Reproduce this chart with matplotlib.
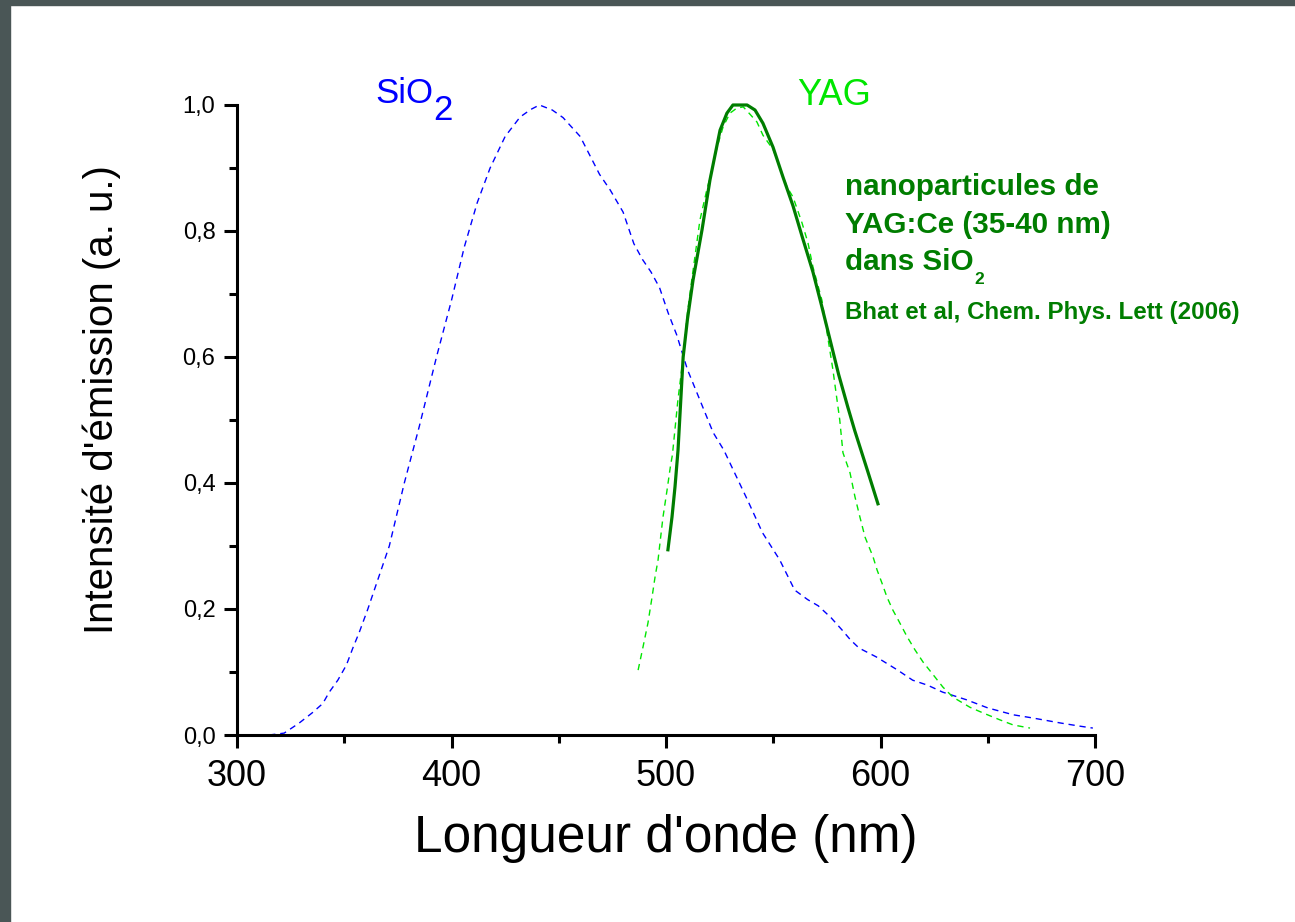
import matplotlib
matplotlib.use("Agg")
import matplotlib.pyplot as plt
from matplotlib.patches import Rectangle
from matplotlib.ticker import MultipleLocator, FuncFormatter

plt.rcParams["font.family"] = ["Liberation Sans", "DejaVu Sans"]

# SiO2 matrix emission (blue dashed)
lam_sio2 = [315, 322, 329, 335, 340, 343, 347, 351, 354, 357, 361, 365, 371,
            378, 385, 393, 400, 406, 412, 418, 425, 432, 437, 441, 447, 452,
            460, 469, 474, 480, 485, 489, 493, 497, 501, 505, 510, 516, 522,
            527, 532, 538, 545, 553, 560, 566, 571, 577, 582, 586, 590, 598,
            608, 615, 622, 629, 640, 650, 662, 671, 684, 693, 699]
int_sio2 = [0.0, 0.003, 0.019, 0.035, 0.05, 0.068, 0.087, 0.111, 0.138, 0.163,
            0.2, 0.24, 0.3, 0.4, 0.49, 0.6, 0.69, 0.775, 0.845, 0.9, 0.95, 0.981,
            0.993, 1.0, 0.992, 0.98, 0.95, 0.89, 0.865, 0.83, 0.78, 0.755,
            0.735, 0.71, 0.67, 0.635, 0.58, 0.53, 0.48, 0.452, 0.416, 0.373,
            0.321, 0.278, 0.23, 0.215, 0.205, 0.186, 0.167, 0.151, 0.138,
            0.124, 0.103, 0.087, 0.079, 0.068, 0.056, 0.043, 0.032, 0.027,
            0.019, 0.014, 0.011]

# bulk YAG emission (light green dashed)
lam_yag = [487, 489.3, 491.6, 493.5, 494.9, 496.3, 497.2, 498.6, 500.5, 502,
           503, 505.5, 508, 510, 512, 515.8, 519, 521.4, 523.8, 526.6, 529.8,
           533, 536, 538.2, 542.4, 545.2, 550, 556.4, 559.2, 563.4, 566.2,
           568.5, 572.7, 577.8, 581, 582.5, 585.8, 588.1, 590.4, 592.8, 596.5,
           598.4, 600.7, 603, 605.8, 608.2, 612.4, 616.1, 619.8, 624, 629.1,
           633.8, 641.7, 647.8, 655.7, 661.8, 669.7]
int_yag = [0.103, 0.14, 0.178, 0.219, 0.251, 0.278, 0.305, 0.346, 0.389, 0.425,
           0.445, 0.53, 0.6, 0.67, 0.722, 0.817, 0.865, 0.897, 0.933, 0.965,
           0.987, 0.995, 0.997, 0.989, 0.973, 0.952, 0.929, 0.87, 0.854,
           0.813, 0.781, 0.743, 0.69, 0.58, 0.5, 0.448, 0.416, 0.378, 0.346,
           0.314, 0.283, 0.262, 0.241, 0.219, 0.198, 0.183, 0.156, 0.135,
           0.116, 0.098, 0.076, 0.06, 0.044, 0.035, 0.024, 0.016, 0.011]

# YAG:Ce nanoparticles in SiO2 (dark green solid)
lam_nano = [500.9, 502.8, 504.2, 505.6, 508, 510, 512.6, 516.8, 520.5, 525.2,
            528.4, 531.2, 537.8, 541.5, 545.2, 549.9, 554.5, 559.2, 563.4,
            568.5, 572.5, 576.5, 580.5, 584.8, 588, 591, 594, 596.5, 598.8]
int_nano = [0.294, 0.346, 0.394, 0.452, 0.6, 0.66, 0.722, 0.802, 0.881, 0.96,
            0.987, 1.0, 1.0, 0.992, 0.971, 0.933, 0.886, 0.84, 0.792, 0.735,
            0.682, 0.627, 0.572, 0.52, 0.483, 0.451, 0.419, 0.392, 0.367]

x_ticks = [300, 400, 500, 600, 700]
y_ticks = [0.0, 0.2, 0.4, 0.6, 0.8, 1.0]

blue = "#0000ff"
light_green = "#00e600"
dark_green = "#007d00"

fig = plt.figure(figsize=(12.95, 9.22), dpi=100)
fig.patch.set_facecolor("white")
# dark frame on the left and top edges
fig.patches.append(Rectangle((0, 0), 10 / 1295, 1, transform=fig.transFigure,
                             color="#4a5656", zorder=-1))
fig.patches.append(Rectangle((0, 1 - 5 / 922), 1, 5 / 922, transform=fig.transFigure,
                             color="#4a5656", zorder=-1))

ax = fig.add_axes([237 / 1295, 187 / 922, 858 / 1295, 630 / 922])

ax.plot(lam_sio2, int_sio2, color=blue, lw=1.0, dashes=(4.5, 3.5), clip_on=False)
ax.plot(lam_yag, int_yag, color=light_green, lw=1.0, dashes=(4.5, 3.5), clip_on=False)
ax.plot(lam_nano, int_nano, color=dark_green, lw=2.3, clip_on=False)

ax.set_xlim(300, 700)
ax.set_ylim(0, 1.0)
ax.set_xticks(x_ticks)
ax.set_yticks(y_ticks)
ax.xaxis.set_minor_locator(MultipleLocator(50))
ax.yaxis.set_minor_locator(MultipleLocator(0.1))
ax.yaxis.set_major_formatter(FuncFormatter(lambda v, p: f"{v:.1f}".replace(".", ",")))

for side in ["top", "right"]:
    ax.spines[side].set_visible(False)
for side in ["left", "bottom"]:
    ax.spines[side].set_linewidth(2.2)

ax.tick_params(which="major", direction="out", length=9.5, width=2.2)
ax.tick_params(which="minor", direction="out", length=5.5, width=2.2)
ax.tick_params(axis="x", which="major", labelsize=26, pad=8)
ax.tick_params(axis="y", which="major", labelsize=17, pad=6)

ax.set_xlabel("Longueur d'onde (nm)", fontsize=37, labelpad=14)
ax.set_ylabel("Intensité d'émission (a. u.)", fontsize=29)
ax.yaxis.set_label_coords(-0.135, 0.533)

# curve labels
t = ax.text(364.3, 1.003, "SiO", color=blue, fontsize=25, va="baseline", clip_on=False)
ax.annotate("2", xy=(1, 0), xycoords=t, xytext=(0.5, 0), textcoords="offset points",
            color=blue, fontsize=25, va="center")
ax.text(561, 1.0, "YAG", color=light_green, fontsize=26, va="baseline")

ax.text(583.4, 0.87, "nanoparticules de", color=dark_green, fontsize=21.3,
        fontweight="bold", va="center")
ax.text(583.4, 0.81, "YAG:Ce (35-40 nm)", color=dark_green, fontsize=21.3,
        fontweight="bold", va="center")
t2 = ax.text(583.4, 0.75, "dans SiO", color=dark_green, fontsize=21.3,
             fontweight="bold", va="center")
ax.annotate("2", xy=(1, 0), xycoords=t2, xytext=(0.5, -2), textcoords="offset points",
            color=dark_green, fontsize=12.5, fontweight="bold", va="center")
ax.text(583.4, 0.671, "Bhat et al, Chem. Phys. Lett (2006)", color=dark_green,
        fontsize=17.4, fontweight="bold", va="center")

fig.savefig("out.png", dpi=100)
